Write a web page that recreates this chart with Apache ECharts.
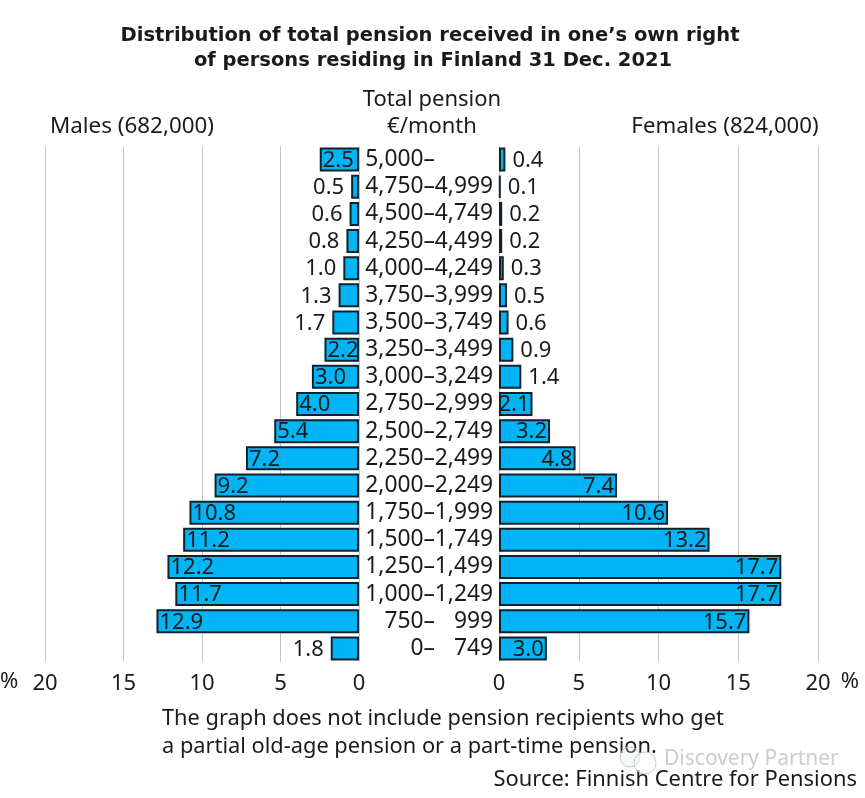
<!DOCTYPE html>
<html>
<head>
<meta charset="utf-8">
<style>html,body{margin:0;padding:0;background:#fff}#chart{width:865px;height:798px}</style>
<script src="https://cdn.jsdelivr.net/npm/echarts@6/dist/echarts.min.js"></script>
</head>
<body>
<div id="chart"></div>
<script>
const categories = ['5,000–', '4,750–4,999', '4,500–4,749', '4,250–4,499', '4,000–4,249', '3,750–3,999', '3,500–3,749', '3,250–3,499', '3,000–3,249', '2,750–2,999', '2,500–2,749', '2,250–2,499', '2,000–2,249', '1,750–1,999', '1,500–1,749', '1,250–1,499', '1,000–1,249', '750–999', '0–749'];
const males = [2.5, 0.5, 0.6, 0.8, 1.0, 1.3, 1.7, 2.2, 3.0, 4.0, 5.4, 7.2, 9.2, 10.8, 11.2, 12.2, 11.7, 12.9, 1.8];
const females = [0.4, 0.1, 0.2, 0.2, 0.3, 0.5, 0.6, 0.9, 1.4, 2.1, 3.2, 4.8, 7.4, 10.6, 13.2, 17.7, 17.7, 15.7, 3.0];

const FONT = '"Noto Sans", sans-serif';
const SIZE = 22;
const CAT_SIZE = 22.8;
const TEXT = '#1a1a1a';
const BAR = '#00b4f5';
const GRID_TOP = 146, GRID_H = 516;

function text(x, y, str, size, align, extra) {
  return { type: 'text', x, y, style: Object.assign({ text: str, font: size + 'px ' + FONT, fill: TEXT, textAlign: align, textVerticalAlign: 'middle' }, extra) };
}

function valueAxis(gridIndex, inverse) {
  return {
    type: 'value', gridIndex, inverse, min: 0, max: 20, interval: 5,
    axisLine: { show: false }, axisTick: { show: false },
    axisLabel: { color: TEXT, fontFamily: FONT, fontSize: SIZE, margin: 11 },
    splitLine: { lineStyle: { color: '#c4c4c4', width: 1 } }
  };
}

function barSeries(index, values, innerPos, outerPos) {
  return {
    type: 'bar', xAxisIndex: index, yAxisIndex: index, data: values.map(v => ({
      value: v,
      // large bars hold the number, small ones push it outside
      label: v >= 2 ? { position: innerPos, distance: 3 } : { position: outerPos, distance: 7 }
    })),
    barWidth: 24,
    itemStyle: { color: BAR, borderColor: '#12222c', borderWidth: 2 },
    label: { show: true, color: TEXT, fontFamily: FONT, fontSize: SIZE, offset: [0, 1], formatter: p => p.value.toFixed(1) },
    silent: true
  };
}

const chart = echarts.init(document.getElementById('chart'), null, { renderer: 'canvas' });
chart.setOption({
  animation: false,
  grid: [
    { left: 45, width: 314, top: GRID_TOP, height: GRID_H },
    { left: 499, width: 319, top: GRID_TOP, height: GRID_H }
  ],
  xAxis: [valueAxis(0, true), valueAxis(1, false)],
  yAxis: [
    { type: 'category', gridIndex: 0, inverse: true, data: categories, axisLine: { show: false }, axisTick: { show: false }, axisLabel: { show: false } },
    {
      type: 'category', gridIndex: 1, inverse: true, data: categories,
      axisLine: { show: false }, axisTick: { show: false },
      axisLabel: {
        margin: 6, interval: 0, fontFamily: FONT, fontSize: CAT_SIZE, color: TEXT, align: 'right',
        formatter: v => {
          const [a, b] = v.split('–');
          return '{a|' + a + '–}{b|' + (b || ' ') + '}';
        },
        rich: {
          a: { width: 76, align: 'right', fontFamily: FONT, fontSize: CAT_SIZE, color: TEXT },
          b: { width: 58, align: 'right', fontFamily: FONT, fontSize: CAT_SIZE, color: TEXT }
        }
      }
    }
  ],
  series: [barSeries(0, males, 'insideLeft', 'left'), barSeries(1, females, 'insideRight', 'right')],
  graphic: [
    text(430, 36, 'Distribution of total pension received in one’s own right', 18, 'center', { font: 'bold 19.5px "DejaVu Sans"' }),
    text(433, 61, 'of persons residing in Finland 31 Dec. 2021', 18, 'center', { font: 'bold 19.5px "DejaVu Sans"' }),
    text(432, 100, 'Total pension', 22, 'center'),
    text(432, 127, '€/month', 22, 'center'),
    text(132, 127, 'Males (682,000)', 22.4, 'center'),
    text(725, 127, 'Females (824,000)', 22.2, 'center'),
    text(0, 682, '%', 22, 'left'),
    text(859, 682, '%', 22, 'right'),
    text(162, 719, 'The graph does not include pension recipients who get', 21.8, 'left'),
    text(162, 747, 'a partial old-age pension or a part-time pension.', 21.8, 'left'),
    text(857, 780, 'Source: Finnish Centre for Pensions', 21.9, 'right'),
    text(664, 759, 'Discovery Partner', 21, 'left', { fill: '#c9ced2' }),
    // watermark logo
    { type: 'circle', shape: { cx: 630, cy: 757, r: 10 }, style: { fill: 'rgba(220,222,224,0.25)', stroke: '#c4c8cb', lineWidth: 1 } },
    { type: 'circle', shape: { cx: 645, cy: 763, r: 11 }, style: { fill: 'rgba(255,255,255,0.4)', stroke: '#c4c8cb', lineWidth: 1 } }
  ]
});
</script>
</body>
</html>
